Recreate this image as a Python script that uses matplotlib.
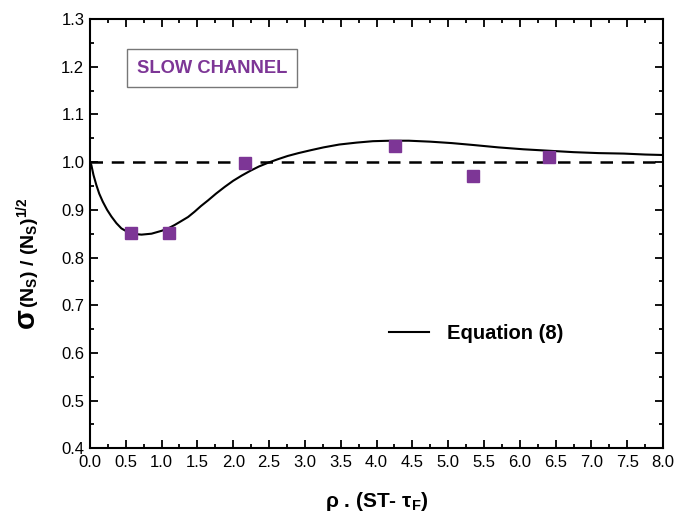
import numpy as np
import matplotlib
matplotlib.use('Agg')
import matplotlib.pyplot as plt
from matplotlib.ticker import MultipleLocator

plt.rcParams['font.family'] = ['Liberation Sans', 'DejaVu Sans']
plt.rcParams['mathtext.default'] = 'regular'

# measured points (slow channel)
rho_meas = [0.57, 1.10, 2.16, 4.26, 5.35, 6.41]
sig_meas = [0.851, 0.851, 0.998, 1.034, 0.971, 1.011]

# Equation (8) curve
rho_eq = [0.0, 0.02, 0.05, 0.09, 0.13, 0.18, 0.24, 0.30, 0.37, 0.44, 0.51,
          0.58, 0.65, 0.72, 0.79, 0.86, 0.93, 1.0, 1.09, 1.18, 1.27, 1.37,
          1.46, 1.55, 1.65, 1.76, 1.88, 2.00, 2.12, 2.24, 2.36, 2.49, 2.62,
          2.76, 2.91, 3.08, 3.26, 3.48, 3.72, 3.95, 4.19, 4.45, 4.75, 5.05,
          5.35, 5.70, 6.05, 6.40, 6.75, 7.10, 7.45, 7.75, 8.0]
sig_eq = [1.0, 0.994, 0.973, 0.952, 0.934, 0.917, 0.900, 0.886, 0.872, 0.861,
          0.855, 0.851, 0.849, 0.848, 0.849, 0.850, 0.853, 0.856, 0.861, 0.868,
          0.876, 0.885, 0.896, 0.908, 0.920, 0.934, 0.948, 0.961, 0.972, 0.982,
          0.991, 0.999, 1.006, 1.013, 1.019, 1.025, 1.031, 1.037, 1.041, 1.044,
          1.045, 1.045, 1.043, 1.040, 1.036, 1.031, 1.027, 1.024, 1.021, 1.019,
          1.018, 1.016, 1.015]

fig = plt.figure(figsize=(6.76, 5.17), dpi=100)
ax = fig.add_axes([0.133, 0.133, 0.848, 0.830])

ax.axhline(1.0, color='black', lw=1.8, ls=(0, (5, 3.5)))
line, = ax.plot(rho_eq, sig_eq, color='black', lw=1.5, label='Equation (8)')
ax.plot(rho_meas, sig_meas, 's', color='#7d3696', markersize=8.5, zorder=3)

ax.set_xlim(0, 8)
ax.set_ylim(0.4, 1.3)
ax.xaxis.set_major_locator(MultipleLocator(0.5))
ax.xaxis.set_minor_locator(MultipleLocator(0.25))
ax.yaxis.set_major_locator(MultipleLocator(0.1))
ax.yaxis.set_minor_locator(MultipleLocator(0.05))
ax.tick_params(which='both', direction='in', top=True, right=True, width=1.3)
ax.tick_params(which='major', length=6, labelsize=12)
ax.tick_params(which='minor', length=3)
ax.tick_params(axis='x', pad=5)
ax.tick_params(axis='y', pad=4)
for sp in ax.spines.values():
    sp.set_linewidth(1.5)

ax.set_xlabel(r'ρ . (ST- τ$_F$)', fontsize=15, fontweight='bold', labelpad=14)

# y label: large sigma followed by the rest of the expression
fig.text(34 / 676, 1 - 328 / 517, 'σ', rotation=90, rotation_mode='anchor',
         ha='left', va='baseline', fontsize=21, fontweight='bold')
fig.text(34 / 676, 1 - 308 / 517, r'(N$_S$) / (N$_S$)$^{1/2}$', rotation=90,
         rotation_mode='anchor', ha='left', va='baseline', fontsize=14,
         fontweight='bold')

ax.text(0.082, 0.886, 'SLOW CHANNEL', transform=ax.transAxes, fontsize=13.2,
        fontweight='bold', color='#7d3696', va='center', ha='left',
        bbox=dict(boxstyle='square,pad=0.55', fc='white', ec='#777777', lw=1))

ax.legend(handles=[line], loc='center left', bbox_to_anchor=(0.49, 0.268),
          frameon=False, handlelength=2.0, handletextpad=0.9,
          prop={'size': 14.5, 'weight': 'bold'})

fig.savefig('out.png', dpi=100)
